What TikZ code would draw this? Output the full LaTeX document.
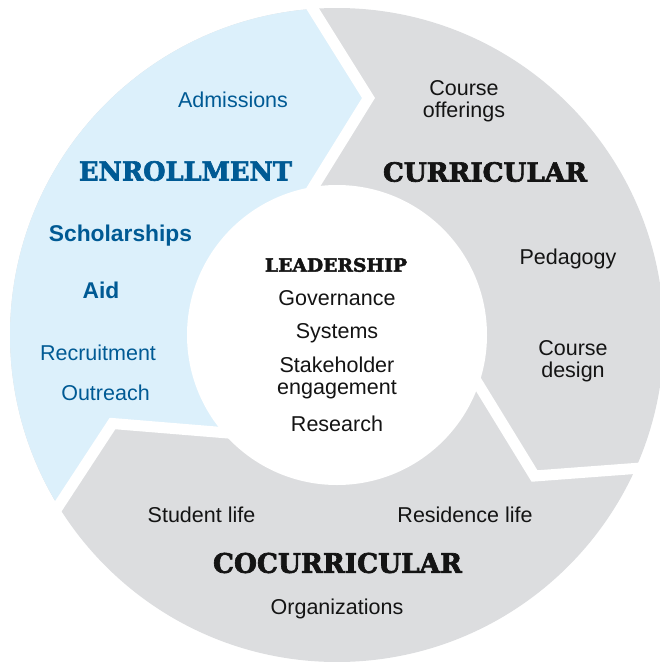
\documentclass[tikz,border=0pt]{standalone}
\usepackage{fontspec}
\setmainfont{Liberation Sans}
\newfontfamily\headfont{DejaVu Serif}[BoldFeatures={FakeBold=2.5}]
\usepackage{graphicx}
\definecolor{enrblue}{RGB}{220,240,251}
\definecolor{ringgray}{RGB}{220,221,223}
\definecolor{txtblue}{RGB}{0,90,148}
\definecolor{txtdark}{RGB}{20,20,20}
\newcommand{\hdtext}[3]{\resizebox{#1}{#2}{\headfont\bfseries #3}}
\begin{document}
\begin{tikzpicture}[x=1pt,y=-1pt,
  lbl/.style={font=\fontsize{21.5}{22}\selectfont, align=center, inner sep=0pt, text=txtdark},
  bluelbl/.style={lbl, text=txtblue},
  boldblue/.style={bluelbl, font=\fontsize{22.8}{23}\selectfont\bfseries},
  head/.style={inner sep=0pt, text=txtdark},
  bluehead/.style={inner sep=0pt, text=txtblue},
  gap/.style={draw=white, line width=11pt, line join=miter, miter limit=10}]
\useasboundingbox (0,0) rectangle (660,662);
\clip (0,0) rectangle (660,662);
\coordinate (C) at (337,335);
% ring
\fill[ringgray] (C) circle[radius=327pt];
\begin{scope}
  \clip (C) circle[radius=327pt];
  \fill[enrblue] (-52.5,675.5) -- (112.5,423.5) -- (254.9,435.2) -- (337,335)
     -- (301,207) -- (368.5,98) -- (203.5,-166) -- (-300,-166) -- (-300,675.5) -- cycle;
\end{scope}
% gaps between segments
\coordinate (g1o) at (302.5,-7.6);
\coordinate (g1t) at (368.5,98);
\coordinate (g1i) at (301,207);
\coordinate (g2o) at (667.8,466);
\coordinate (g2t) at (534.5,476);
\coordinate (g2i) at (463.6,360.3);
\coordinate (g3o) at (41,532.7);
\coordinate (g3t) at (112.5,423.5);
\coordinate (g3i) at (254.9,435.2);
\draw[gap] (g1o) -- (g1t) -- (g1i);
\draw[gap] (g2o) -- (g2t) -- (g2i);
\draw[gap] (g3o) -- (g3t) -- (g3i);
% centre
\fill[white] (C) circle[radius=150pt];
% Enrollment
\node[bluelbl] (adm) at (233,100) {Admissions};
\node[bluehead] (enr) at (185.5,171) {\hdtext{213pt}{19.5pt}{ENROLLMENT}};
\node[boldblue] (sch) at (120.5,236) {Scholarships};
\node[boldblue] (aid) at (101,290) {Aid};
\node[bluelbl] (rec) at (98,353) {Recruitment};
\node[bluelbl] (out) at (105.5,393) {Outreach};
% Curricular
\node[lbl] (coff) at (464,101) {Course\\offerings};
\node[head] (cur) at (485,172) {\hdtext{204pt}{19.5pt}{CURRICULAR}};
\node[lbl] (ped) at (568,259) {Pedagogy};
\node[lbl] (cdes) at (573,361) {Course\\design};
% Cocurricular
\node[lbl] (stu) at (201.5,515) {Student life};
\node[lbl] (res) at (465,515) {Residence life};
\node[head] (coc) at (337.5,563) {\hdtext{249pt}{20pt}{COCURRICULAR}};
\node[lbl] (org) at (337,609) {Organizations};
% Leadership
\node[head] (lead) at (336,265) {\hdtext{142pt}{13.5pt}{LEADERSHIP}};
\node[lbl] (gov) at (337,298) {Governance};
\node[lbl] (sys) at (337,333) {Systems};
\node[lbl] (stake) at (337,378) {Stakeholder\\engagement};
\node[lbl] (rsch) at (337,424) {Research};
\end{tikzpicture}
\end{document}
